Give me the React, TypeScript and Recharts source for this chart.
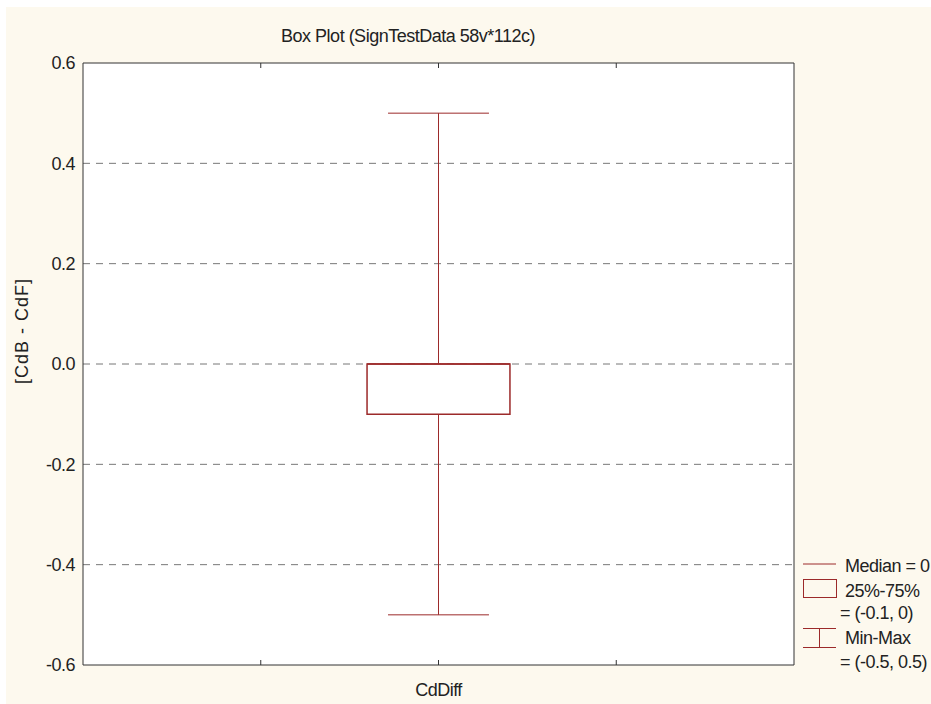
import React from 'react';
import {
  ComposedChart,
  XAxis,
  YAxis,
  CartesianGrid,
  ReferenceArea,
  ReferenceLine,
  Scatter
} from 'recharts';

const categories = ['CdDiff'];
const categoryPositions = [2];
const xTicks = [1, 2, 3];
const yTicks = [-0.6, -0.4, -0.2, 0, 0.2, 0.4, 0.6];
const minValues = [-0.5];
const q1Values = [-0.1];
const medianValues = [0];
const q3Values = [0];
const maxValues = [0.5];
const legendLabels = ['Median = 0', '25%-75%', '= (-0.1, 0)', 'Min-Max', '= (-0.5, 0.5)'];

const BOX_COLOR = '#9c2a2a';
const FRAME = '#333';
const FONT = '"Liberation Sans", Arial, sans-serif';
// half widths in x-axis units
const BOX_HALF = 0.402;
const CAP_HALF = 0.284;

const data = categories.map((name, i) => ({
  name,
  x: categoryPositions[i],
  min: minValues[i],
  q1: q1Values[i],
  median: medianValues[i],
  q3: q3Values[i],
  max: maxValues[i]
}));

function BottomTick(props: any) {
  const { x, y, payload } = props;
  const idx = categoryPositions.indexOf(payload.value);
  return (
    <g>
      <line x1={x} y1={y} x2={x} y2={y - 5} stroke={FRAME} />
      {idx >= 0 && (
        <text x={x} y={y + 31} textAnchor="middle" fontFamily={FONT} fontSize={18}
          letterSpacing={-0.5} fill="#222">
          {categories[idx]}
        </text>
      )}
    </g>
  );
}

function TopTick(props: any) {
  const { x, y } = props;
  return <line x1={x} y1={y} x2={x} y2={y + 5} stroke={FRAME} />;
}

const textStyle: React.CSSProperties = {
  position: 'absolute',
  fontFamily: FONT,
  fontSize: 18,
  letterSpacing: -0.5,
  lineHeight: '20px',
  color: '#222',
  whiteSpace: 'nowrap'
};

export default function App() {
  return (
    <div style={{ position: 'absolute', left: 6, top: 7, width: 925, height: 697, background: '#fdf9ee' }}>
      <ComposedChart width={925} height={697} data={data}
        margin={{ top: 55, right: 136, left: 76, bottom: 38 }}>
        <CartesianGrid vertical={false} horizontalValues={yTicks.slice(1, -1)} fill="#fff"
          stroke="#777" strokeDasharray="7 6" />
        <XAxis dataKey="x" type="number" domain={[0, 4]} ticks={xTicks} height={1}
          tickSize={0} tickMargin={0} tickLine={false} tick={<BottomTick />}
          axisLine={{ stroke: FRAME }} />
        <XAxis xAxisId="top" orientation="top" dataKey="x" type="number" domain={[0, 4]}
          ticks={xTicks} height={1} tickSize={0} tickMargin={0} tickLine={false}
          tick={<TopTick />} axisLine={{ stroke: FRAME }} />
        <YAxis type="number" domain={[-0.6, 0.6]} ticks={yTicks} width={1} tickSize={0}
          tickMargin={8} tickLine={false} axisLine={{ stroke: FRAME }}
          tickFormatter={(v: number) => v.toFixed(1)}
          tick={{ fontFamily: FONT, fontSize: 18, fill: '#222', letterSpacing: -0.5 }} />
        <YAxis yAxisId="right" orientation="right" type="number" domain={[-0.6, 0.6]}
          width={1} tick={false} tickLine={false} axisLine={{ stroke: FRAME }} />
        {data.map((d) => [
          <ReferenceLine key={d.name + 'lo'} segment={[{ x: d.x, y: d.min }, { x: d.x, y: d.q1 }]}
            stroke={BOX_COLOR} />,
          <ReferenceLine key={d.name + 'hi'} segment={[{ x: d.x, y: d.q3 }, { x: d.x, y: d.max }]}
            stroke={BOX_COLOR} />,
          <ReferenceLine key={d.name + 'capLo'}
            segment={[{ x: d.x - CAP_HALF, y: d.min }, { x: d.x + CAP_HALF, y: d.min }]}
            stroke={BOX_COLOR} />,
          <ReferenceLine key={d.name + 'capHi'}
            segment={[{ x: d.x - CAP_HALF, y: d.max }, { x: d.x + CAP_HALF, y: d.max }]}
            stroke={BOX_COLOR} />,
          <ReferenceArea key={d.name + 'box'} x1={d.x - BOX_HALF} x2={d.x + BOX_HALF}
            y1={d.q1} y2={d.q3} fill="#fff" fillOpacity={1} stroke={BOX_COLOR} strokeWidth={1.5} />,
          <ReferenceLine key={d.name + 'med'}
            segment={[{ x: d.x - BOX_HALF, y: d.median }, { x: d.x + BOX_HALF, y: d.median }]}
            stroke={BOX_COLOR} strokeWidth={1.5} />
        ])}
        <Scatter dataKey="median" isAnimationActive={false} shape={() => <g />} />
      </ComposedChart>

      <div style={{ ...textStyle, left: 402, top: 19, transform: 'translateX(-50%)' }}>
        Box Plot (SignTestData 58v*112c)
      </div>
      <div style={{
        ...textStyle, left: 16, top: 324, letterSpacing: 1,
        transform: 'translate(-50%, -50%) rotate(-90deg)'
      }}>
        [CdB - CdF]
      </div>

      {/* legend */}
      <svg style={{ position: 'absolute', left: 0, top: 0 }} width={925} height={697}>
        <line x1={797} x2={830} y1={557} y2={557} stroke={BOX_COLOR} />
        <rect x={797.5} y={572.5} width={33} height={18} fill="none" stroke={BOX_COLOR} />
        <line x1={797} x2={830} y1={621.5} y2={621.5} stroke={BOX_COLOR} />
        <line x1={797} x2={830} y1={640.5} y2={640.5} stroke={BOX_COLOR} />
        <line x1={813.5} x2={813.5} y1={621.5} y2={640.5} stroke={BOX_COLOR} />
      </svg>
      <div style={{ ...textStyle, left: 839, top: 549 }}>{legendLabels[0]}</div>
      <div style={{ ...textStyle, left: 839, top: 574 }}>{legendLabels[1]}</div>
      <div style={{ ...textStyle, left: 834, top: 596 }}>{legendLabels[2]}</div>
      <div style={{ ...textStyle, left: 839, top: 621 }}>{legendLabels[3]}</div>
      <div style={{ ...textStyle, left: 834, top: 645 }}>{legendLabels[4]}</div>
    </div>
  );
}
